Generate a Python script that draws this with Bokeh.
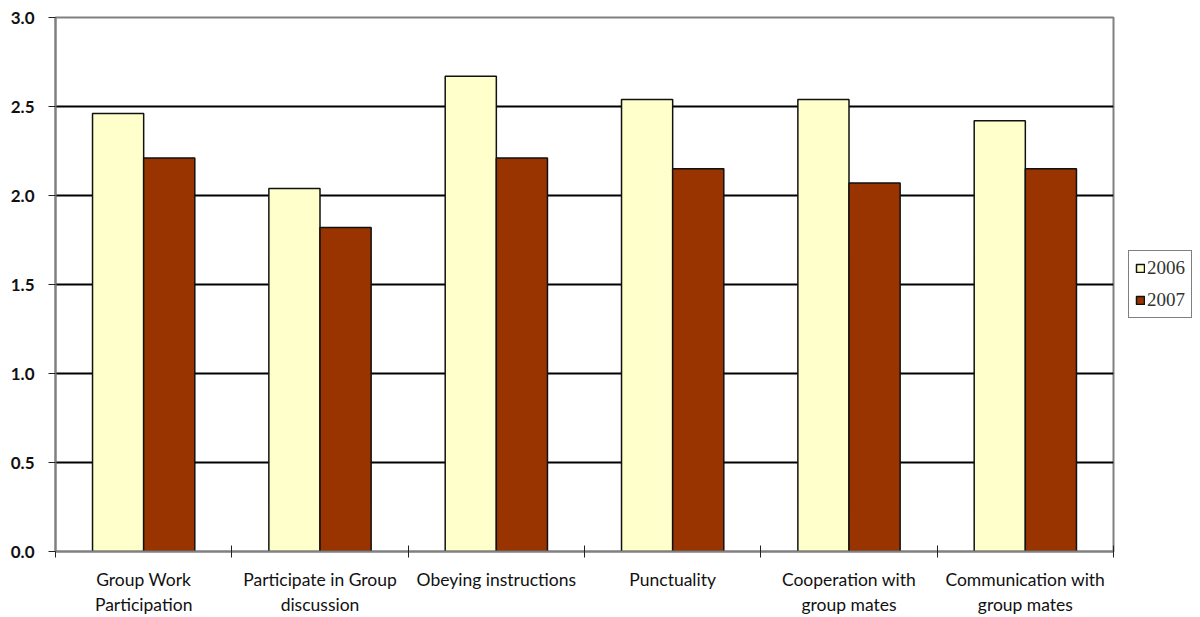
import numpy as np
from bokeh.plotting import figure
from bokeh.models import (ColumnDataSource, FixedTicker, Legend, LegendItem,
                          Range1d, PrintfTickFormatter)
from bokeh.transform import dodge
from bokeh.embed import file_html
from bokeh.resources import INLINE

categories = ["Group Work\nParticipation", "Participate in Group\ndiscussion",
              "Obeying instructions", "Punctuality",
              "Cooperation with\ngroup mates", "Communication with\ngroup mates"]
values_2006 = [2.46, 2.04, 2.67, 2.54, 2.54, 2.42]
values_2007 = [2.21, 1.82, 2.21, 2.15, 2.07, 2.15]
y_ticks = [0.0, 0.5, 1.0, 1.5, 2.0, 2.5, 3.0]

pos = np.arange(len(categories)) + 0.5
src = ColumnDataSource(dict(x=pos, v6=values_2006, v7=values_2007))

p = figure(frame_width=1058, frame_height=534, output_backend="svg", toolbar_location=None,
           x_range=Range1d(0, len(categories)), y_range=Range1d(0, 3),
           min_border_left=55, min_border_top=17, min_border_bottom=66,
           min_border_right=0)
p.background_fill_color = "white"
p.outline_line_color = "#808080"
p.outline_line_width = 2

bw = 0.29
r6 = p.vbar(x=dodge("x", -bw / 2, range=p.x_range), top="v6", width=bw, source=src,
            fill_color="#FFFFCC", line_color="#111111", line_width=1.5)
r7 = p.vbar(x=dodge("x", bw / 2, range=p.x_range), top="v7", width=bw, source=src,
            fill_color="#993300", line_color="#111111", line_width=1.5)

# y axis
p.yaxis.ticker = FixedTicker(ticks=y_ticks)
p.yaxis.formatter = PrintfTickFormatter(format="%.1f")
p.yaxis.axis_line_color = "#808080"
p.yaxis.axis_line_width = 2
p.yaxis.major_tick_line_color = "#222222"
p.yaxis.major_tick_out = 7
p.yaxis.major_tick_in = 0
p.yaxis.major_label_standoff = 14
p.yaxis.major_label_text_font = "Lato"
p.yaxis.major_label_text_font_size = "17px"
p.yaxis.major_label_text_font_style = "bold"
p.yaxis.major_label_text_color = "#111111"

# x axis
p.xaxis.ticker = FixedTicker(ticks=list(pos), minor_ticks=list(range(len(categories) + 1)))
p.xaxis.major_label_overrides = {float(x): c for x, c in zip(pos, categories)}
p.xaxis.axis_line_color = "#808080"
p.xaxis.axis_line_width = 2
p.xaxis.major_tick_line_color = None
p.xaxis.major_tick_in = 0
p.xaxis.major_tick_out = 0
p.xaxis.minor_tick_line_color = "#222222"
p.xaxis.minor_tick_in = 6
p.xaxis.minor_tick_out = 6
p.xaxis.major_label_standoff = 11
p.xaxis.major_label_text_font = "Lato"
p.xaxis.major_label_text_font_size = "17.5px"
p.xaxis.major_label_text_color = "#111111"

# grid
p.xgrid.grid_line_color = None
p.ygrid.ticker = FixedTicker(ticks=y_ticks[1:-1])
p.ygrid.grid_line_color = "black"
p.ygrid.grid_line_width = 2

legend = Legend(items=[LegendItem(label="2006", renderers=[r6]),
                       LegendItem(label="2007", renderers=[r7])],
                location="center_left", orientation="vertical")
legend.margin = 15
legend.padding = 6
legend.spacing = 10
legend.glyph_width = 10
legend.glyph_height = 10
legend.label_standoff = 2
legend.label_height = 20
legend.label_text_font = "Liberation Serif"
legend.label_text_font_size = "19px"
legend.label_text_color = "#333333"
legend.border_line_color = "black"
legend.border_line_width = 1
legend.background_fill_color = "white"
p.add_layout(legend, "right")

open("out.html", "w").write(file_html(p, INLINE))
